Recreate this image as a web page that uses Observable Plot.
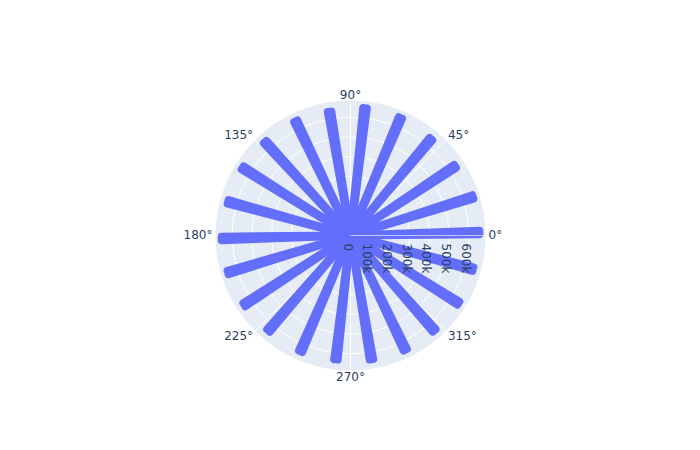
<!DOCTYPE html>
<html>
<head>
<meta charset="utf-8">
<script src="https://cdn.jsdelivr.net/npm/d3@7"></script>
<script src="https://cdn.jsdelivr.net/npm/@observablehq/plot@0.6"></script>
<style>
  html, body { margin: 0; padding: 0; background: #fff; }
  #chart { width: 700px; height: 450px; }
</style>
</head>
<body>
<div id="chart"></div>
<script>
// ---- data ----
const spokeThetaLo = [0.5, 16.7, 32.7, 49.4, 66.2, 82.7, 98.8, 114.8, 131.6, 147.1, 163.8, 180.5, 196.0, 212.3, 228.4, 245.9, 262.5, 278.8, 294.8, 310.6, 327.1, 343.8];
const spokeThetaHi = [2.1, 18.3, 34.3, 51.0, 67.8, 84.3, 100.4, 116.4, 133.2, 148.7, 165.4, 182.1, 197.6, 213.9, 230.0, 247.5, 264.1, 280.4, 296.4, 312.2, 328.7, 345.4];
const spokeRMax = [654000, 651000, 636000, 637000, 648000, 650000, 637000, 643000, 642000, 646000, 644000, 654000, 649000, 643000, 637000, 640000, 633000, 637000, 643000, 642000, 646000, 644000];
const radialTicks = [0, 100000, 200000, 300000, 400000, 500000, 600000];
const radialTickLabels = ["0", "100k", "200k", "300k", "400k", "500k", "600k"];
const angularTicks = [0, 45, 90, 135, 180, 225, 270, 315];
const radialMax = 685000;

// ---- build ----
const rad = d => d * Math.PI / 180;
const px = (r, t) => r * Math.cos(rad(t));
const py = (r, t) => r * Math.sin(rad(t));

const spokes = [];
spokeRMax.forEach((r, i) => {
  spokes.push({r, theta: spokeThetaLo[i]});
  spokes.push({r, theta: spokeThetaHi[i]});
});
const rTicks = radialTicks.map((v, i) => ({v, label: radialTickLabels[i]}));
const aTicks = angularTicks.map(t => ({t, label: t + "°"}));
const zero = () => 0;
const ink = "#2a3f5f";
const font = {fontFamily: '"DejaVu Sans", Verdana, sans-serif', fontSize: 12, fill: ink};

function angLabels(list, opts) {
  return Plot.text(aTicks.filter(d => list.includes(d.t)), {
    x: d => px(radialMax, d.t), y: d => py(radialMax, d.t), text: "label",
    ...font, ...opts
  });
}

const chart = Plot.plot({
  width: 700,
  height: 450,
  style: {background: "white", color: ink},
  x: {domain: [-radialMax, radialMax], range: [215, 485], axis: null},
  y: {domain: [-radialMax, radialMax], range: [370, 100], axis: null},
  r: {type: "linear", domain: [0, radialMax], range: [0, 135]},
  marks: [
    // polar background
    Plot.dot([radialMax], {x: zero, y: zero, r: d => d, fill: "#E5ECF6", stroke: "none"}),
    // radial grid circles
    Plot.dot(radialTicks.filter(v => v > 0), {x: zero, y: zero, r: d => d, fill: "none", stroke: "white", strokeWidth: 1}),
    // angular grid lines
    Plot.link(angularTicks, {x1: zero, y1: zero, x2: t => px(radialMax, t), y2: t => py(radialMax, t), stroke: "white", strokeWidth: 1}),
    // data spokes
    Plot.link(spokes, {x1: zero, y1: zero, x2: d => px(d.r, d.theta), y2: d => py(d.r, d.theta),
      stroke: "#636efa", strokeWidth: 8, strokeLinecap: "round"}),
    // radial axis line (above traces)
    Plot.link([radialMax], {x1: zero, y1: zero, x2: d => d, y2: zero, stroke: "white", strokeWidth: 1.2, strokeOpacity: 0.6}),
    // radial tick labels
    Plot.text(rTicks, {x: d => d.v, y: zero, text: "label", rotate: 90, textAnchor: "start",
      lineAnchor: "middle", dx: -3, dy: 8, ...font}),
    // angular tick labels
    angLabels([0], {textAnchor: "start", lineAnchor: "middle", dx: 3}),
    angLabels([45], {textAnchor: "start", lineAnchor: "bottom", dx: 2, dy: -1}),
    angLabels([315], {textAnchor: "start", lineAnchor: "top", dx: 2, dy: 1}),
    angLabels([180], {textAnchor: "end", lineAnchor: "middle", dx: -3}),
    angLabels([135], {textAnchor: "end", lineAnchor: "bottom", dx: -2, dy: -1}),
    angLabels([225], {textAnchor: "end", lineAnchor: "top", dx: -2, dy: 1}),
    angLabels([90], {textAnchor: "middle", lineAnchor: "bottom", dy: -2}),
    angLabels([270], {textAnchor: "middle", lineAnchor: "top", dy: 2})
  ]
});
document.getElementById("chart").appendChild(chart);
</script>
</body>
</html>
